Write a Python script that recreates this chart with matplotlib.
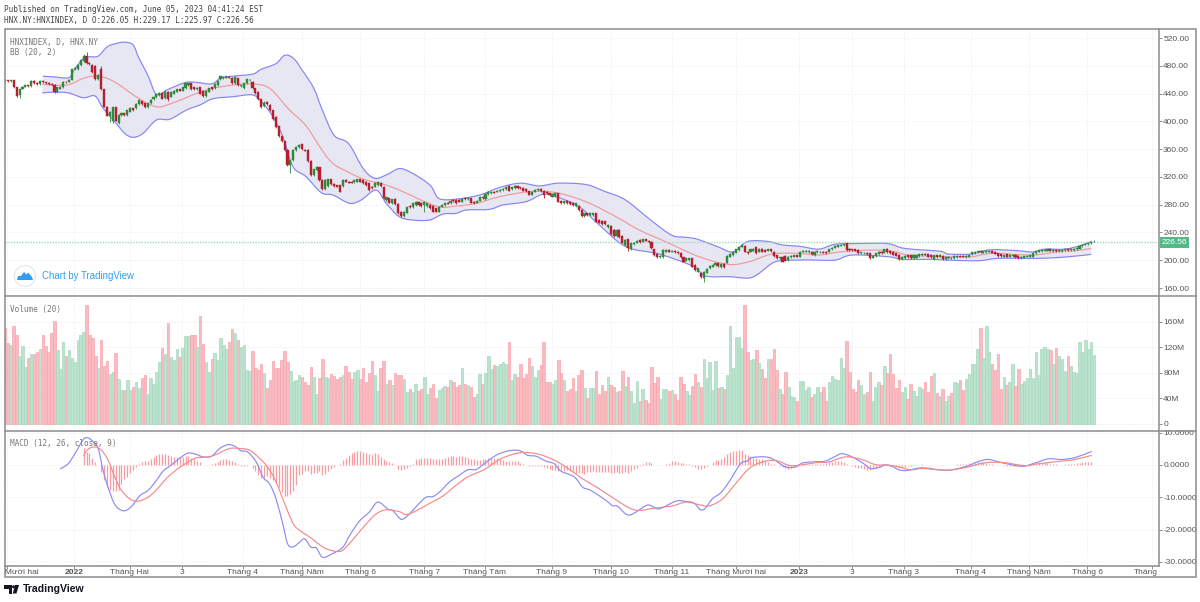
import numpy as np
import matplotlib
matplotlib.use("Agg")
import matplotlib.pyplot as plt
from matplotlib.patches import Rectangle, Circle, Polygon, PathPatch
from matplotlib.path import Path
from matplotlib.lines import Line2D

# ---------- candle data ----------
opens = [460,459,458,459,449,438,447,450,452,451,458,455,454,458,456,455,454,453,442,447,
449,457,457,460,475,475,481,487,494,484,481,480,461,476,446,421,408,401,420,398,
409,411.5,409,414,418.7,418.7,425,429,426,420,426,431.7,434.5,438,441,433,442.7,435.5,440,442.7,
446,444,448,452,454.7,449,446,449,444,436.5,442.7,449,447.5,452,460.5,462,463,464,463,454.7,
462,451,447.5,454.7,459.5,456.6,447.5,442.7,431.7,422,428,424,416,406,393,379,371,359,337,344,
359,362.5,367,358.7,358.7,343,322.7,330,333.7,315.5,302,306.9,316.5,309.7,308,308,306.9,315.5,313,313,
312.6,313,316.5,315.5,313,310.7,305.9,305.9,308,311.7,305.9,286.7,289,281.9,288,281,
269.4,263.7,268.5,278,276,279.5,284.3,282.9,279.5,278,279.5,278,274.7,269.9,277,279.5,282.9,282,286.7,286.7,
286.7,284.3,289,287.7,289,284.3,282.9,285.7,291.5,287.7,295.3,296.3,298.7,298.7,299.2,301,302,306.9,302,304,
306.9,305,304,303,299,294.4,298.7,301,303,300,298.7,296.3,291.5,292.5,296.3,285.7,282,285.7,284.3,283,
278,278,273,263.7,267.5,264.6,265,267.5,258,257,256,247.3,249.3,243.5,234.9,243.5,234.9,221.9,230,215.7,
223.3,225.3,229,226.7,230,228.1,226.7,215.7,209,204.1,204.1,212.3,214.7,212.3,213.7,212.3,210.9,204.1,199.3,200.3,
202.7,193.1,183.5,182,173.9,182,188.3,190.7,193.1,195.5,189.7,194.5,196.5,205,207,210.9,214.7,219.5,220.5,212.3,
212.3,213.7,218.5,212.3,216.6,214.7,213.7,215.7,212.3,207,202.7,205,206,200.3,204.1,205,207,205,
212.3,212.3,211.8,212.3,207.5,211.3,211.3,212.3,212.3,212.3,215.7,218,219.5,220.9,221.9,224.3,216.1,215.7,215.7,214.7,
209.9,209.9,210.9,209.9,203.7,206,209,212.3,210.9,216.6,213.7,212.3,209.9,207.5,201.3,202.7,207,207,202.7,203.7,
206,207.5,209.4,208.5,207.5,201.3,207,205,206,201.3,202.7,203.7,203.2,204.6,206.5,206,204.1,205,208.5,209.9,
211.3,213.7,210.9,211.3,212.3,213.3,211.8,209.9,208.5,205,208.5,205,206,207.5,206,203.2,203.7,205,205,205,
209.9,212.3,213.3,213.7,213.7,215.7,213.3,215.2,212.8,213.3,214.2,216.1,214.2,214.7,215.7,216.6,220.5,222.4,223.3,225,226.05]

closes = [459,458,459,449,436,446,450,452,451,458,455,454,458,456,455,454,453,442,449,450,
457,456,460,475,477,481,488,494,484,482,471,461,467,446,421,408,414,420,401,409,
411.5,409,416,419,416,425,431,425,420,426,431,434.5,439,441,432.6,442.7,431.7,442.7,444,446,
444,449,454.7,454.7,446,446,448.5,440,436.5,444,447.5,446,453.7,458.5,465,464,465,463,454.7,464,
452,452,454.7,460.5,460,447.5,441,431.7,420,427,425,416,403,392,379,371,359,337,344,359,
363.5,366,359.7,357.7,343,322.7,331,334.7,315.5,302,315.5,316.5,309.7,306.9,305.9,298.7,315.5,313,311.7,311.7,
315,316.5,313,310.7,308,301,303.5,311.7,313,306.9,289,290.5,282.8,287.7,281,267.5,
263.7,269.9,276.1,276,282,284.3,279.5,278,284.3,282,274.7,269.9,269.9,277,279.5,282,281.4,285.7,285.3,282,
284.3,288.6,287.7,289.6,282.9,282,285.7,291.5,289,295.3,298.7,298.7,297.3,300.1,301,302.5,305,300,305,306.9,
304,304,300,299,294.4,298.7,301,303,299,294,296.3,294,295.3,296.3,284.3,282,284.8,282,281,279.5,
282,272.3,263.7,267.5,265,267.5,267.5,255.5,254,252,252,250.7,237.7,234.9,243.5,232.9,225.3,229,217,224.3,
225.3,228.1,226.2,230,228.1,226.2,217,207.5,204.1,206,214.7,214.7,212.3,213.7,211.8,209.9,204.1,197.9,202.7,202.7,
190.7,185.9,188.3,175.3,183.5,187.8,191.7,193.6,195.5,191.7,194.5,189.7,206,209,212.3,215.7,218.5,221.9,212.3,209.9,
215.7,216.6,209.9,216.6,212.3,212.3,215.7,212.8,206,202.7,204.1,197.9,199.3,205,206,207,205,212.3,
213.7,213.7,213.3,209,212.3,212.8,212.3,210.9,210.4,215.7,218,220.5,221.4,222.4,222.9,214.7,214.7,214.2,213.7,209.9,
211.3,210.9,209,202.7,206,209.9,212.3,209.9,215.7,211.8,209.9,208,206.5,201.7,205,206,204.1,203.2,207.5,207,
208.5,209.4,208,205,204.1,207,204.1,207.5,201.3,204.1,205,202.7,206,206.5,205,205,206.5,207,211.3,211.8,
212.8,211.3,212.8,213.3,213.3,210.9,209.4,206,205.6,207,205,207.5,207.5,204.1,203.2,205,205.6,206.5,207,210.9,
212.8,214.2,214.7,215.2,215.7,213.7,214.7,213.3,214.7,215.2,216.1,214.2,216.1,216.6,218,220.5,222.4,223.8,225.3,226.5,226.56]

long_highs = {27:497, 28:500, 33:479, 55:445, 89:430, 173:309, 374:229.17}
long_lows = {5:434, 36:399.5, 37:397, 39:396, 56:429, 98:325, 185:289, 240:168.6, 144:270, 214:214, 374:225.97}

# ---------- Bollinger bands ----------
upper_x = [13,17,22,24,27,29,32,35,38,41,44,46,49,52,56,62,66,71,74,78,85,88,93,96,99,102,106,109,113,118,123,127,131,135.5,
140,146,149,155,163,170,177,183.5,190,199.5,206,213,222,229,234,238,245,250,255,262,267,273,
279.5,285,292,303,309,321,324,332,338,347,353,357,364,370,373]
upper_y = [465,464,463,476,491,493,494,507,512,514,510,491,467,439,446,456,456,454,462,465,468,475,483,495,491,474,448,416,380,368,332,318,323,332,
325,308,289,288,294,305,311,307,311,309,299,287,257,236,233,230,219,212,227,227,222,220,
216,223,224,224,217,213,209,209,215,214,212,216,216,222,227]
mid_x = [12.8,21.1,26.9,31.4,37.1,46.3,52,56.6,69.1,78.3,85.1,90.9,97.7,103.4,111.4,118.3,124,129.7,135.4,
148.1,154.9,161.8,169.8,180.1,189.2,199.5,209.8,217.8,226.9,238.4,248.6,255.5,263.5,272.6,
279.5,287.5,298.9,305.7,310.3,324,332,338.9,352.6,361.7,367.5,373]
mid_y = [453.3,452.3,461.9,465.3,458,432,421,425,445,452.3,453.7,447.5,416.3,393.3,344.3,326,315.5,309.7,301,
278,278,281.9,291.5,298.7,297.3,284.3,262.7,243.5,226.7,205,194,197.9,209,209.9,
207.5,212.3,214.7,212.3,207.5,205,205,209.9,207.5,212.3,213.7,217]
lower_x = [12.8,16.6,21.7,26.9,30.9,33.7,37.7,41.1,44,47.4,52,56.6,62.3,66.9,71.4,78.3,85.1,88.6,92,95.4,98.9,103.4,108.6,112.6,118.3,122.3,127.4,130.9,135.4,
140,145.8,150.4,154.9,158.4,166.4,170.9,178.9,184.6,189.2,197.2,204.1,213.2,224.6,236.1,240.6,248.6,255.5,258.9,264.6,272.6,
277.2,285.2,290.9,303.5,308,318.3,322.9,334.3,341.2,354.9,365.2,373]
lower_y = [441,442,441,434,436.5,418.7,399.5,382.7,377,382.7,402,403,416.3,423.5,432.6,435.5,438,426,406.7,378,334.7,320.3,297.3,294,282,286.7,301,282,262.7,
257.9,257.9,266.5,267.5,272.3,273.3,279.5,284.3,294.9,291.5,277,250.7,219.5,209,191.7,177.3,176.3,174.4,181,197.9,200.3,
200.3,200.3,207.5,205,201.3,201.3,200.3,199.3,202.7,202.7,205,208.5]

# ---------- volume (millions) ----------
volumes = [150,126,124,154,139,106,122,89,103,109,109,113,117,140,122,112,143,162,115,86,
129,106,116,103,97,132,140,144,186,139,135,107,87,131,91,99,78,81,111,70,
52,52,68,52,58,65,56,71,76,47,72,62,81,97,119,109,159,104,100,117,
104,119,138,138,140,139,120,170,125,97,81,102,111,100,135,123,117,128,149,142,
131,121,123,85,82,114,87,85,93,80,56,69,98,88,88,100,114,97,83,67,
69,77,73,66,61,89,74,47,71,101,74,71,78,75,70,73,76,91,81,70,
81,85,70,88,65,79,99,76,51,87,98,63,69,61,80,76,
76,70,50,55,49,63,51,55,74,47,56,62,40,52,56,59,57,69,65,57,
60,88,62,60,58,41,46,78,62,79,107,86,92,90,93,97,93,129,69,78,
74,94,72,78,103,90,74,85,92,128,66,66,62,68,100,79,69,51,54,71,
51,76,85,56,40,56,56,82,47,61,51,74,60,57,49,51,83,59,74,51,
32,67,35,55,37,32,89,64,74,39,55,55,51,53,47,37,73,62,51,45,
59,78,66,58,101,71,97,52,99,56,58,55,77,153,88,137,136,119,187,113,
100,101,115,96,86,72,101,101,118,85,55,46,81,58,44,41,35,67,
67,53,58,41,46,58,49,58,36,65,75,70,69,103,87,130,81,55,50,69,
61,47,49,81,36,58,66,60,91,79,109,78,56,68,49,58,38,62,51,43,
57,55,66,50,75,80,48,44,54,36,43,48,66,64,69,52,70,78,94,93,
118,150,103,154,113,93,85,110,55,74,61,65,93,59,86,62,67,71,86,71,
112,77,118,120,117,115,93,119,107,102,82,107,91,81,79,129,112,131,118,128,108]

# ---------- MACD ----------
macd_x = [18.9,21.7,24,26.9,28.6,30.3,32,33.7,35.4,37.7,40.6,43.4,46.3,49.1,52,54.3,57.7,60.6,62.9,65.7,68,70.9,73.7,76.6,78.9,81.1,83.4,86.3,88.6,90.9,93.1,95.4,97.1,98.9,101.1,102.9,105.1,106.9,109.1,112.6,116,118.3,121.7,125.1,128,131.4,133.1,135.4,
136.6,138.9,141.8,144.6,146.9,149.2,152.6,155.5,158.9,161.8,164.6,168.6,172.1,174.9,177.2,179.5,182.4,185.8,188.6,190.9,195.5,198.4,201.2,206.4,208.6,210.4,213.2,215.5,220.1,221.8,224.6,230.4,233.8,236.6,238.9,240.6,242.9,245.8,248.6,252.6,254.9,256.6,262.4,268.1,271.5,272.6,
274.3,278.3,281.7,285.2,287.5,290.9,294.9,297.2,300,302.3,304.6,306.9,309.7,314.3,317.7,321.7,325.2,330.9,333.7,337.7,342.3,349.2,353.7,358.3,362.9,367.5,373.2]
macd_y = [-1.25,0.4,3.5,7.9,8.4,7.2,5.1,-1.7,-6.9,-12.2,-14.2,-12.9,-9.5,-7.9,-4.8,-1.9,0.4,2.5,3.7,3.3,2.5,2.7,5.1,6.3,5.8,4.4,4.0,0.9,-3.8,-5.9,-10.6,-18.3,-24.5,-25.4,-24,-22.9,-25.5,-25.7,-28.6,-27.4,-25.5,-21.9,-17.4,-14.6,-11.5,-13.6,-14.1,-16.4,
-16.8,-15.2,-12.3,-10,-9.8,-8.4,-5.3,-3.5,-1.5,-1.4,0.4,3,4.2,4.6,4.3,3,2.7,1.2,0.4,-1.9,-3.7,-6.9,-7.9,-11,-12.6,-12.8,-15.2,-15.2,-12.6,-12.6,-13.6,-11.2,-11.3,-11.8,-13.9,-13.3,-10.5,-8.6,-5.3,0.4,1.2,2.3,2.3,-0.6,-0.6,0,
0.7,1,1.2,2.7,3.5,2.5,0.4,-1.1,-0.8,0,-0.4,-1.5,-1.7,-0.9,-1.1,-1.6,-1.5,-0.2,0.9,1.7,0.7,-0.4,0.6,1.9,1.7,2.3,4.2]
signal_x = [26.9,28.6,30.9,33.1,35.4,37.7,40,42.9,45.7,49.1,52,55.4,58.9,62.3,65.7,69.7,72.6,77.1,80.6,84,86.9,89.7,92.6,95.4,97.7,99.4,101.7,105.1,108,110.9,114.9,117.1,120.6,124,127.4,130.9,135.5,
137.8,141.2,145.8,150.4,154.9,158.9,164.6,169.8,174.4,178.4,183.5,188.1,192.6,198.4,204.1,209.8,214.4,217.8,223.5,229.2,233.8,238.4,241.8,246.4,250.9,255.5,260,264.6,269.2,272.6,
278.3,282.9,286.3,289.7,294.9,298.9,302.9,306.9,310.9,314.9,320.6,325.2,330.9,336,342.3,350.3,354.9,362.9,367.5,373.2]
signal_y = [2.7,4.9,5.6,4.6,1.5,-3.7,-7.9,-10.5,-11.2,-10,-7.7,-4.2,-1.5,0.6,2.2,2.5,3.3,5.1,5.1,4.6,2.5,-0.1,-4.3,-10.5,-15.7,-18.8,-20.6,-22.6,-24.7,-26.2,-26.8,-25.5,-21.9,-18.3,-15.2,-13.9,-14.5,
-15.4,-14.2,-11.9,-9.6,-6.3,-3.7,-1.4,1.7,3.3,3.9,3.3,1.7,-0.6,-4.3,-7.4,-10.8,-13.3,-14.1,-13.3,-12.7,-11.5,-12.3,-12.7,-10.5,-5.8,-1.1,0.9,1.4,-0.1,-0.1,
0.7,0.9,2,2.5,1.5,0.1,0,-0.6,-1.5,-1.1,-1.5,-1.5,-0.6,0.6,0.8,-0.2,0.4,1.2,1.7,3]
hist_start = 27
hist_vals = [5.4,4.0,3.7,2.2,0.8,0.1,-2.1,-4.7,-6.7,-7.9,-8,-8,-7.6,-6,-4.4,-3.7,-2.6,-1.7,-0.6,0.3,0.8,1.1,1.2,1.9,2.5,3.1,3.4,3.4,3.4,3.0,2.7,2.6,2.4,2.5,2.6,2.8,2.7,2.3,1.9,1.1,0.9,0,0,0.1,0.2,0.6,1,1.5,1.7,1.7,1.6,1.1,0.9,0.3,-0.3,-0.4,-0.3,-0.1,-0.9,-1.8,-3,-3.9,-4,-3.5,-3.9,-4.7,-5.7,-6.8,-8.4,-9.6,-9.6,-9.1,-8.1,-6.2,-3.2,-2.9,-2,-2,-2.7,-2.5,-2.4,-2,-3,-2.9,-2,-1.4,-0.7,-0.1,0.4,1.5,2.3,3,3.6,3.9,4.3,4.4,4.1,3.6,3.4,3.4,3.6,3.5,2.6,1.7,1.2,0.8,0.5,0.1,-1.4,
-1.7,-1.4,-0.9,-0.3,0.4,1.8,2,2.2,2.3,2.3,2.2,1.8,1.7,1.7,1.9,2.2,2.5,2.8,2.8,2.6,2.8,2.8,2.6,2.2,1.8,1.7,1.6,1.5,1.7,1.9,2.1,2.2,2.2,2.1,1.9,1.6,1.3,1.3,1.2,1.2,1.1,0.6,0.3,-0.1,-0.4,-0.3,-0.2,-0.2,-0.4,-0.6,-0.9,-1.3,-1.5,-1.7,-1.9,-1.7,-1.9,-1.7,-2,-2.3,-2.6,-2.4,-2.6,-2.7,-2.3,-2.1,-2.0,-2.1,-2.2,-2.2,-2.1,-2.3,-2.5,-2.6,-2.3,-2.4,-2.4,-2.3,-2.5,-2,-1.4,-0.9,-0.4,0.3,0.9,0.9,0.5,0.1,-0.1,-0.1,0.1,0.4,0.7,1.1,1.2,0.8,0.7,0.6,0.3,0.4,-0.3,-0.7,-1.1,-1.3,-0.9,-0.4,0.1,0.9,1.4,1.6,2,2.6,3.4,3.9,4.2,4.4,4.5,4.7,3.4,3.2,2.9,2.2,2.2,1.9,1.7,1.1,0.9,0.4,0.2,-0.1,-0.3,-0.6,-0.9,-1.1,-0.8,-0.7,-0.2,
0.1,0.2,0.4,0.4,0.4,0.4,0.3,0.3,0.4,0.6,0.9,1,1.1,1.1,1.1,0.8,0.3,-0.1,-0.3,-0.5,-0.8,-1,-1.4,-1.6,-1.6,-1.4,-0.8,-0.6,-0.3,-0.1,0,-0.2,-0.4,-0.7,-0.8,-0.7,-0.5,-0.4,-0.2,-0.1,0,0.1,0.2,0.1,0.1,-0.1,-0.1,0,0.1,0.1,0.1,0.1,0.1,0.1,0.2,0.3,0.3,0.4,0.5,0.6,0.7,0.8,0.9,0.9,0.6,0.4,0.2,0.1,0.1,-0.1,-0.2,-0.3,-0.4,-0.4,-0.4,-0.4,-0.3,-0.2,0,0.1,0.2,0.4,0.6,0.7,0.8,0.7,0.4,0.3,0.2,0.1,0.1,0.2,0.3,0.3,0.4,0.6,0.7,0.8,0.8,0.9,0.8]

# ---------- axis labels ----------
tick_positions = [0.6,23.8,42.9,60.8,81.7,102,122,143.9,164.8,187.8,208.1,229,251,272.7,290.9,308.7,331.7,351.6,371.6,393.8]
tick_labels = ["","2022","Tháng Hai","3","Tháng 4","Tháng Năm","Tháng 6","Tháng 7","Tháng Tám","Tháng 9",
               "Tháng 10","Tháng 11","Tháng Mười hai","2023","3","Tháng 3","Tháng 4","Tháng Năm","Tháng 6",""]
edge_label_left = "Mười hai"
edge_label_right = "Tháng"
price_ticks = [160,200,240,280,320,360,400,440,480,520]
volume_ticks = [0,40,80,120,160]
macd_ticks = [-30,-20,-10,0,10]
last_price = 226.56

# ---------- colours ----------
RED, GREEN = "#b5202e", "#2f8a3c"
VOL_RED, VOL_RED_E = "#f9bcc2", "#f7a4ad"
VOL_GREEN, VOL_GREEN_E = "#bbe3cd", "#a5d9bc"
BAND, MIDC, BANDFILL = "#8585f2", "#ef9a9a", "#e7e7f4"
GRID, TXT, LINE = "#f0f0f0", "#555555", "#8c8c8c"
SANS = "Liberation Sans"
MONO = "DejaVu Sans Mono"

W, H = 1200, 602
fig = plt.figure(figsize=(W/100, H/100), dpi=100, facecolor="white")

def rect(l, t, r, b):
    return [l/W, 1-b/H, (r-l)/W, (b-t)/H]
def fx(x): return x/W
def fy(y): return 1-y/H

def curve(xv, yv):
    """Bezier path running through the read vertices, so the drawn line is smooth."""
    p = np.column_stack([xv, yv]).astype(float)
    q = np.vstack([p[0], p, p[-1]])
    verts, codes = [p[0]], [Path.MOVETO]
    for i in range(1, len(q)-2):
        c1 = q[i] + (q[i+1]-q[i-1])/6
        c2 = q[i+1] - (q[i+2]-q[i])/6
        verts += [c1, c2, q[i+1]]
        codes += [Path.CURVE4]*3
    return np.array(verts), codes

def draw_curve(ax, xv, yv, color, lw, z):
    v, k = curve(xv, yv)
    ax.add_patch(PathPatch(Path(v, k), fill=False, edgecolor=color, lw=lw, zorder=z))

L, R = 4.5, 1159
ax1 = fig.add_axes(rect(L, 29, R, 296))
ax2 = fig.add_axes(rect(L, 296, R, 431))
ax3 = fig.add_axes(rect(L, 431, R, 565.5))

step = 2.912
x_left = (L-5)/step
x_right = (R-5)/step

for ax in (ax1, ax2, ax3):
    ax.set_xlim(x_left, x_right)
    ax.yaxis.tick_right()
    ax.set_xticks(tick_positions)
    ax.grid(True, color=GRID, lw=0.7, ls=(0, (1.5, 1.5)))
    ax.set_axisbelow(True)
    for s in ax.spines.values():
        s.set_visible(False)
    ax.tick_params(axis="y", length=2.2, width=0.7, color=LINE, pad=0.8, labelsize=6, labelcolor=TXT)
    ax.tick_params(axis="x", length=0, labelbottom=False)

# ---- price panel ----
ax1.set_ylim(148.5, 533)
ax1.set_yticks(price_ticks)
ax1.set_yticklabels([f"{v:.2f}" for v in price_ticks], family=SANS)
uv, uk = curve(upper_x, upper_y)
lv, lk = curve(lower_x[::-1], lower_y[::-1])
lk = [Path.LINETO] + lk[1:]
fill_path = Path(np.vstack([uv, lv, uv[0]]), uk + lk + [Path.LINETO])
ax1.add_patch(PathPatch(fill_path, facecolor=BANDFILL, edgecolor="none", zorder=1))
draw_curve(ax1, upper_x, upper_y, BAND, 0.85, 2)
draw_curve(ax1, lower_x, lower_y, BAND, 0.85, 2)
draw_curve(ax1, mid_x, mid_y, MIDC, 0.85, 2)
ax1.axhline(last_price, color="#9ddcba", lw=1.0, ls=(0, (1, 1)), zorder=2)

o = np.array(opens, float)
c = np.array(closes, float)
n = min(len(o), len(c))
o, c = o[:n], c[:n]
xs = np.arange(n)
up = c >= o
cols = np.where(up, GREEN, RED)
hi = np.maximum(o, c) + 1.0
lo = np.minimum(o, c) - 1.0
for k, v in long_highs.items():
    if k < n: hi[k] = v
for k, v in long_lows.items():
    if k < n: lo[k] = v
ax1.vlines(xs, lo, hi, colors=cols, lw=0.6, zorder=3)
ax1.bar(xs, np.abs(c-o), bottom=np.minimum(o, c), width=0.72, color=cols, edgecolor=cols, lw=0.3, zorder=4)

# ---- volume panel ----
ax2.set_ylim(-11.8, 200.8)
ax2.set_yticks(volume_ticks)
ax2.set_yticklabels([f"{v}M" if v else "0" for v in volume_ticks], family=SANS)
v = np.array(volumes, float)
m = min(len(v), n)
vx = np.arange(m)
ax2.bar(vx, v[:m], width=0.85,
        color=np.where(up[:m], VOL_GREEN, VOL_RED),
        edgecolor=np.where(up[:m], VOL_GREEN_E, VOL_RED_E), lw=0.5, zorder=2)

# ---- MACD panel ----
ax3.set_ylim(-31.15, 10.53)
ax3.set_yticks(macd_ticks)
ax3.set_yticklabels([f"{v}.0000" for v in macd_ticks], family=SANS)
hx = np.arange(hist_start, hist_start+len(hist_vals))
ax3.vlines(hx, 0, hist_vals, colors="#f99ba3", lw=0.9, zorder=2)
draw_curve(ax3, macd_x, macd_y, "#8b8bf5", 0.85, 3)
draw_curve(ax3, signal_x, signal_y, "#f58a8a", 0.85, 4)

# x tick labels
ax3.tick_params(axis="x", length=1.8, width=0.7, color=LINE, labelbottom=True, pad=0.6, labelsize=6, labelcolor=TXT)
ax3.set_xticklabels(tick_labels, family=SANS)
for t, lab in zip(ax3.get_xticklabels(), tick_labels):
    if lab in ("2022", "2023"):
        t.set_fontweight("bold")
fig.text(fx(5), fy(572), edge_label_left, color=TXT, family=SANS, size=6, va="center", ha="left")
fig.text(fx(1158), fy(572), edge_label_right, color=TXT, family=SANS, size=6, va="center", ha="right")

# ---- frame and separators ----
ln = dict(color=LINE, lw=1.1, transform=fig.transFigure)
fig.add_artist(Rectangle((fx(L), fy(577)), fx(1196-L), (577-29)/H, fill=False, edgecolor=LINE, lw=1.1, transform=fig.transFigure))
fig.add_artist(Line2D([fx(L), fx(1196)], [fy(296)]*2, **ln))
fig.add_artist(Line2D([fx(L), fx(1196)], [fy(431)]*2, **ln))
fig.add_artist(Line2D([fx(L), fx(R)], [fy(565.5)]*2, **ln))
fig.add_artist(Line2D([fx(R)]*2, [fy(29), fy(565.5)], **ln))

# ---- last price tag ----
fig.add_artist(Rectangle((fx(1159.5), fy(248)), 29.5/W, 11.5/H, facecolor="#53b987", edgecolor="none", transform=fig.transFigure, zorder=5))
fig.text(fx(1174), fy(242.3), "226.56", color="white", family=SANS, size=6, ha="center", va="center", zorder=6)

# ---- texts ----
mono = dict(family=MONO, size=5.6, va="center")
fig.text(fx(4), fy(9.5), "Published on TradingView.com, June 05, 2023 04:41:24 EST", color="#444444", **mono)
fig.text(fx(4), fy(21), "HNX.NY:HNXINDEX, D O:226.05 H:229.17 L:225.97 C:226.56", color="#444444", **mono)
fig.text(fx(10), fy(42), "HNXINDEX, D, HNX.NY", color="#777777", **mono)
fig.text(fx(10), fy(53), "BB (20, 2)", color="#777777", **mono)
fig.text(fx(10), fy(309.5), "Volume (20)", color="#777777", **mono)
fig.text(fx(10), fy(443.5), "MACD (12, 26, close, 9)", color="#777777", **mono)

# ---- Chart by TradingView badge ----
fig.add_artist(Circle((25, H-276), 10.5, facecolor="white", edgecolor="#e3e5ea", lw=0.8, transform=None, zorder=5))
def poly(points, color, z=6):
    fig.add_artist(Polygon([(fx(a), fy(b)) for a, b in points], closed=True, facecolor=color, edgecolor="none",
                           transform=fig.transFigure, zorder=z))
poly([(17,280),(18,276),(21,276),(24,272),(26.5,274.5),(28,272.5),(32,277),(33,280)], "#2f9df4")
fig.text(fx(42), fy(276), "Chart by TradingView", color="#2f9df4", family=SANS, size=6.9, va="center", zorder=6)

# ---- bottom logo ----
poly([(4,585),(12,585),(12,593.5),(8.5,593.5),(8.5,588.5),(4,588.5)], "#131722")
poly([(15,585),(19,585),(16.5,593.5),(12.8,593.5)], "#131722")
fig.add_artist(Circle((13.5, H-586.8), 1.5, facecolor="#131722", edgecolor="none", transform=None, zorder=6))
fig.text(fx(22.5), fy(589.5), "TradingView", color="#131722", family=SANS, weight="bold", size=7.6, va="center")

fig.savefig("out.png", dpi=100, facecolor="white")
